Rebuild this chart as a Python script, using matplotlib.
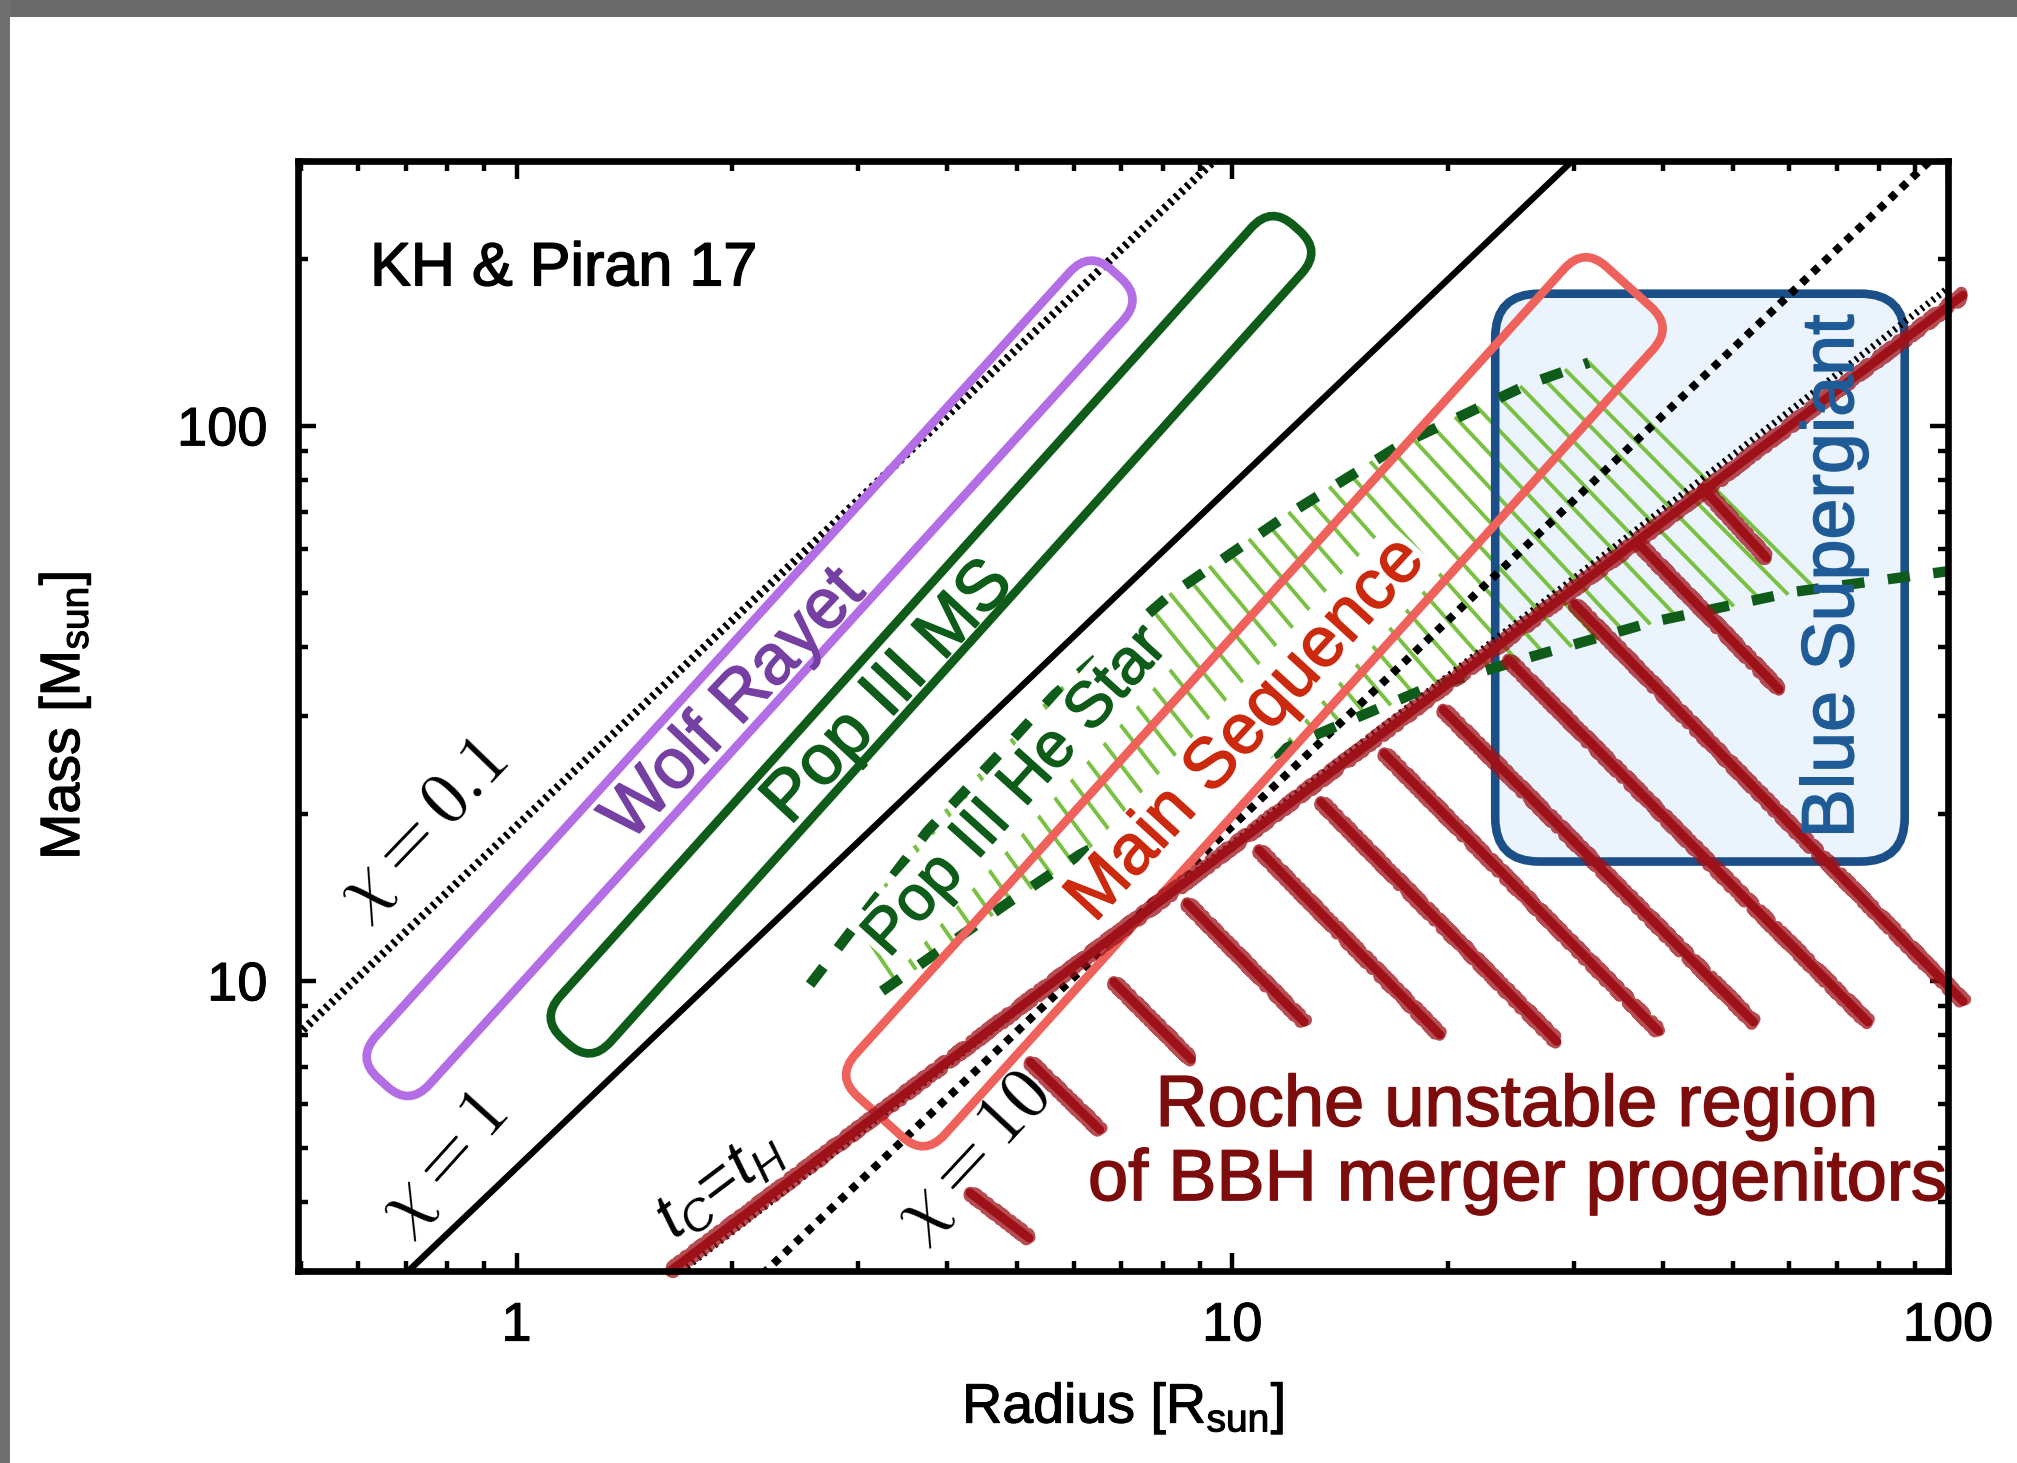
import numpy as np
import matplotlib
matplotlib.use("Agg")
import matplotlib.pyplot as plt
import matplotlib.patheffects as pe
from matplotlib.patches import FancyBboxPatch, Rectangle
from matplotlib.transforms import Affine2D
from matplotlib.ticker import FixedLocator, FixedFormatter, LogLocator, NullFormatter

plt.rcParams['font.family'] = ['Liberation Sans', 'DejaVu Sans']
plt.rcParams['mathtext.fontset'] = 'custom'
plt.rcParams['mathtext.rm'] = 'Liberation Sans'
plt.rcParams['mathtext.it'] = 'Liberation Sans:italic'
plt.rcParams['mathtext.bf'] = 'Liberation Sans:bold'
plt.rcParams['lines.scale_dashes'] = False

# ---------------- data ----------------
R_LIM = (0.495, 100)
M_LIM = (3, 300)

# constant tidal-spin lines: radius at which each line reaches M = 3, common log-log slope
chi_values = [0.1, 1, 10]
chi_r_at_m3 = [0.223, 0.706, 2.23]
chi_slope = 1.23

# contact time equal to Hubble time
tc_line_r = [1.70, 100]
tc_line_m = [3.0, 177]
tc_stroke_r = [1.64, 105]
tc_stroke_m = [3.0, 172]

# Roche unstable region strokes, start (R, M) -> end (R, M)
roche_r0 = [4.30, 5.22, 6.83, 8.65, 10.9, 13.3, 16.3, 19.7, 24.3, 30.1, 37.0, 45.5]
roche_m0 = [4.15, 7.14, 9.95, 13.8, 17.2, 21.0, 25.7, 30.8, 37.9, 47.7, 61.2, 77.1]
roche_r1 = [5.20, 6.53, 8.76, 12.6, 19.5, 28.4, 39.4, 53.5, 77.3, 105, 58.1, 55.8]
roche_m1 = [3.44, 5.39, 7.22, 8.43, 8.00, 7.78, 8.12, 8.43, 8.43, 9.18, 33.5, 57.8]

# Pop III He star band edges
he_upper_r = [2.57, 3.75, 5.65, 8.13, 11.9, 17.3, 26.0, 31.5]
he_upper_m = [9.84, 18.6, 32.8, 49.2, 68.9, 92.9, 119, 130]
he_lower_r = [3.24, 4.81, 6.13, 12.2, 18.5, 25.7, 38.6, 60.8, 100]
he_lower_m = [9.58, 13.7, 16.9, 26.7, 33.5, 38.1, 44.3, 50.2, 54.7]

# slanted stellar-type boxes: end centres (R, M)
box_labels = ['Wolf Rayet', 'Pop III MS', 'Main Sequence']
box_r0 = [0.650, 1.17, 3.22]
box_m0 = [6.56, 7.78, 5.69]
box_r1 = [6.89, 12.3, 35.8]
box_m1 = [187.6, 227, 178]

# blue supergiant box
bsg_r = [23.3, 87.0]
bsg_m = [16.4, 173]

# ---------------- styles ----------------
C_PURPLE = '#b36de5'
C_PURPLE_TXT = '#7640a3'
C_DGREEN = '#0f5c1a'
C_LGREEN = '#79c143'
C_SALMON = '#ee625b'
C_MS_TXT = '#cc2a0e'
C_DRED = '#9e1119'
C_ROCHE_TXT = '#7d0d0d'
C_BLUE = '#1b4f87'
C_BLUE_FILL = '#ebf4fd'
C_BLUE_TXT = '#1f5b96'


def heavy(color, w=1.1):
    return [pe.withStroke(linewidth=w, foreground=color)]


fig = plt.figure(figsize=(20.17, 14.63), dpi=100)
fig.patch.set_facecolor('white')

# screen frame around the slide
fig.patches.append(Rectangle((0, 1 - 17 / 1463), 1, 17 / 1463, transform=fig.transFigure,
                             facecolor='#6a6a6a', edgecolor='none', zorder=0))
fig.patches.append(Rectangle((0, 0), 10 / 2017, 1, transform=fig.transFigure,
                             facecolor='#707070', edgecolor='none', zorder=0))

ax = fig.add_axes([298 / 2017, 1 - 1271 / 1463, 1650 / 2017, 1110 / 1463])
ax.set_xscale('log')
ax.set_yscale('log')
ax.set_xlim(*R_LIM)
ax.set_ylim(*M_LIM)

for s in ax.spines.values():
    s.set_linewidth(4.8)
    s.set_zorder(10)

ax.xaxis.set_major_locator(FixedLocator([1, 10, 100]))
ax.xaxis.set_major_formatter(FixedFormatter(['1', '10', '100']))
ax.yaxis.set_major_locator(FixedLocator([10, 100]))
ax.yaxis.set_major_formatter(FixedFormatter(['10', '100']))
for axis in (ax.xaxis, ax.yaxis):
    axis.set_minor_locator(LogLocator(base=10, subs=np.arange(2, 10)))
    axis.set_minor_formatter(NullFormatter())
ax.tick_params(which='both', direction='in', top=True, right=True, width=3.2, zorder=10)
ax.tick_params(which='major', length=13, labelsize=39, pad=22)
ax.tick_params(which='minor', length=7)
for lab in ax.get_xticklabels() + ax.get_yticklabels():
    lab.set_path_effects(heavy('black', 0.8))

ax.set_xlabel(r'Radius [R$_{\mathrm{sun}}$]', fontsize=40, path_effects=heavy('black', 0.8))
ax.xaxis.set_label_coords(0.5, -0.099)
ax.set_ylabel(r'Mass [M$_{\mathrm{sun}}$]', fontsize=40, path_effects=heavy('black', 0.8))
ax.yaxis.set_label_coords(-0.124, 0.5)

to_disp = ax.transData.transform
to_data = ax.transData.inverted().transform


def rough(r, m, lw, z=6):
    ax.plot(r, m, color=C_DRED, lw=lw, solid_capstyle='round', clip_on=False, zorder=z)
    fringe, = ax.plot(r, m, color=C_DRED, lw=lw * 1.35, alpha=0.75,
                      solid_capstyle='round', clip_on=False, zorder=z)
    fringe.set_sketch_params(scale=3.0, length=2.0, randomness=4.0)


def slanted_box(p0, p1, width, radius, color, lw, z):
    a = to_disp(p0)
    b = to_disp(p1)
    d = b - a
    length = np.hypot(*d)
    ang = np.degrees(np.arctan2(d[1], d[0]))
    c = (a + b) / 2
    patch = FancyBboxPatch((-length / 2, -width / 2), length, width,
                           boxstyle=f'round,pad=0,rounding_size={radius}',
                           transform=Affine2D().rotate_deg(ang).translate(*c),
                           facecolor='none', edgecolor=color, linewidth=lw, zorder=z)
    ax.add_artist(patch)


# blue supergiant box (fill below everything, edge a little higher)
bl = to_disp((bsg_r[0], bsg_m[0]))
tr = to_disp((bsg_r[1], bsg_m[1]))
for fc, ec, z in ((C_BLUE_FILL, 'none', 1), ('none', C_BLUE, 2.5)):
    ax.add_artist(FancyBboxPatch(tuple(bl), tr[0] - bl[0], tr[1] - bl[1],
                                 boxstyle='round,pad=0,rounding_size=44',
                                 transform=Affine2D(), facecolor=fc, edgecolor=ec,
                                 linewidth=6.2, zorder=z))

# constant-chi lines
chi_styles = [dict(ls=(0, (2.4, 3.2)), lw=6.0),
              dict(ls='-', lw=4.6),
              dict(ls=(0, (5.5, 5.5)), lw=5.8)]
for r3, st in zip(chi_r_at_m3, chi_styles):
    rr = np.array([0.1, 200.0])
    mm = 3.0 * (rr / r3) ** chi_slope
    ax.plot(rr, mm, color='black', solid_capstyle='butt', dash_capstyle='butt', zorder=3, **st)

# t_c = t_H
ax.plot(tc_line_r, tc_line_m, color='black', lw=5.0, ls=(0, (1.8, 3.2)),
        dash_capstyle='butt', clip_on=False, zorder=3)
rough(tc_stroke_r, tc_stroke_m, 6.4)

# Roche unstable strokes
for r0, m0, r1, m1 in zip(roche_r0, roche_m0, roche_r1, roche_m1):
    rough([r0, r1], [m0, m1], 6.4)

# Pop III He star band: hatch between the two edges
up = to_disp(np.column_stack([he_upper_r, he_upper_m]))
lo = to_disp(np.column_stack([he_lower_r, he_lower_m]))
seg = np.hypot(*np.diff(up, axis=0).T)
s_up = np.concatenate([[0.0], np.cumsum(seg)])
for sv in np.arange(s_up[-1], 0, -24.0):
    p = np.array([np.interp(sv, s_up, up[:, 0]), np.interp(sv, s_up, up[:, 1])])
    frac = sv / s_up[-1]
    ang = -np.radians(57.0 - 12.0 * frac)
    d = np.array([np.cos(ang), np.sin(ang)])
    best = None
    for q0, q1 in zip(lo[:-1], lo[1:]):
        e = q1 - q0
        mat = np.array([[d[0], -e[0]], [d[1], -e[1]]])
        if abs(np.linalg.det(mat)) < 1e-9:
            continue
        u, v = np.linalg.solve(mat, q0 - p)
        if u > 0 and -0.001 <= v <= 1.001 and (best is None or u < best):
            best = u
    if best is None:
        continue
    pts = to_data(np.array([p, p + best * d]))
    ax.plot(pts[:, 0], pts[:, 1], color=C_LGREEN, lw=2.8, zorder=2)

for rr, mm in ((he_upper_r, he_upper_m), (he_lower_r, he_lower_m)):
    ax.plot(rr, mm, color=C_DGREEN, lw=7.5, ls=(0, (16, 17)), dash_capstyle='butt', zorder=4.5)

# slanted boxes
box_colors = [C_PURPLE, C_DGREEN, C_SALMON]
box_widths = [72, 68, 120]
for r0, m0, r1, m1, col, w in zip(box_r0, box_m0, box_r1, box_m1, box_colors, box_widths):
    slanted_box((r0, m0), (r1, m1), w, 30, col, 6.2, 4.8)

# ---------------- labels ----------------
white = dict(boxstyle='square,pad=0.04', fc='white', ec='none')
ax.text(2.02, 31.3, 'Wolf Rayet', color=C_PURPLE_TXT, fontsize=51, rotation=46.5,
        ha='center', va='center', rotation_mode='anchor', zorder=7,
        path_effects=heavy(C_PURPLE_TXT))
ax.text(3.32, 33.0, 'Pop III MS', color=C_DGREEN, fontsize=51, rotation=47,
        ha='center', va='center', rotation_mode='anchor', zorder=7,
        path_effects=heavy(C_DGREEN))
ax.text(4.99, 21.9, 'Pop III He Star', color=C_DGREEN, fontsize=46, rotation=48,
        ha='center', va='center', rotation_mode='anchor', zorder=4.7, bbox=white,
        path_effects=heavy(C_DGREEN))
ax.text(10.5, 28.3, 'Main Sequence', color=C_MS_TXT, fontsize=51, rotation=47.5,
        ha='center', va='center', rotation_mode='anchor', zorder=4.7, bbox=white,
        path_effects=heavy(C_MS_TXT))
ax.text(69.2, 53.6, 'Blue Supergiant', color=C_BLUE_TXT, fontsize=53, rotation=90,
        ha='center', va='center', zorder=7, path_effects=heavy(C_BLUE_TXT))

ax.text(0.742, 18.7, r'$\chi = 0.1$', math_fontfamily='cm', fontsize=52, rotation=46,
        ha='center', va='center', rotation_mode='anchor', zorder=7)
ax.text(0.793, 4.67, r'$\chi = 1$', math_fontfamily='cm', fontsize=52, rotation=48,
        ha='center', va='center', rotation_mode='anchor', zorder=7)
ax.text(4.35, 4.80, r'$\chi = 10$', math_fontfamily='cm', fontsize=52, rotation=47,
        ha='center', va='center', rotation_mode='anchor', zorder=5.5)
ax.text(1.92, 4.30, r'$t_C$=$t_H$', fontsize=46, rotation=37,
        ha='center', va='center', rotation_mode='anchor', zorder=7)

ax.text(0.0437, 0.888, 'KH & Piran 17', transform=ax.transAxes, fontsize=44,
        ha='left', va='baseline', zorder=7, path_effects=heavy('black'))
ax.text(0.739, 0.114, 'Roche unstable region\nof BBH merger progenitors', transform=ax.transAxes,
        fontsize=52, color=C_ROCHE_TXT, ha='center', va='center', linespacing=1.14, zorder=7,
        path_effects=heavy(C_ROCHE_TXT))

fig.savefig('out.png', dpi=100)
